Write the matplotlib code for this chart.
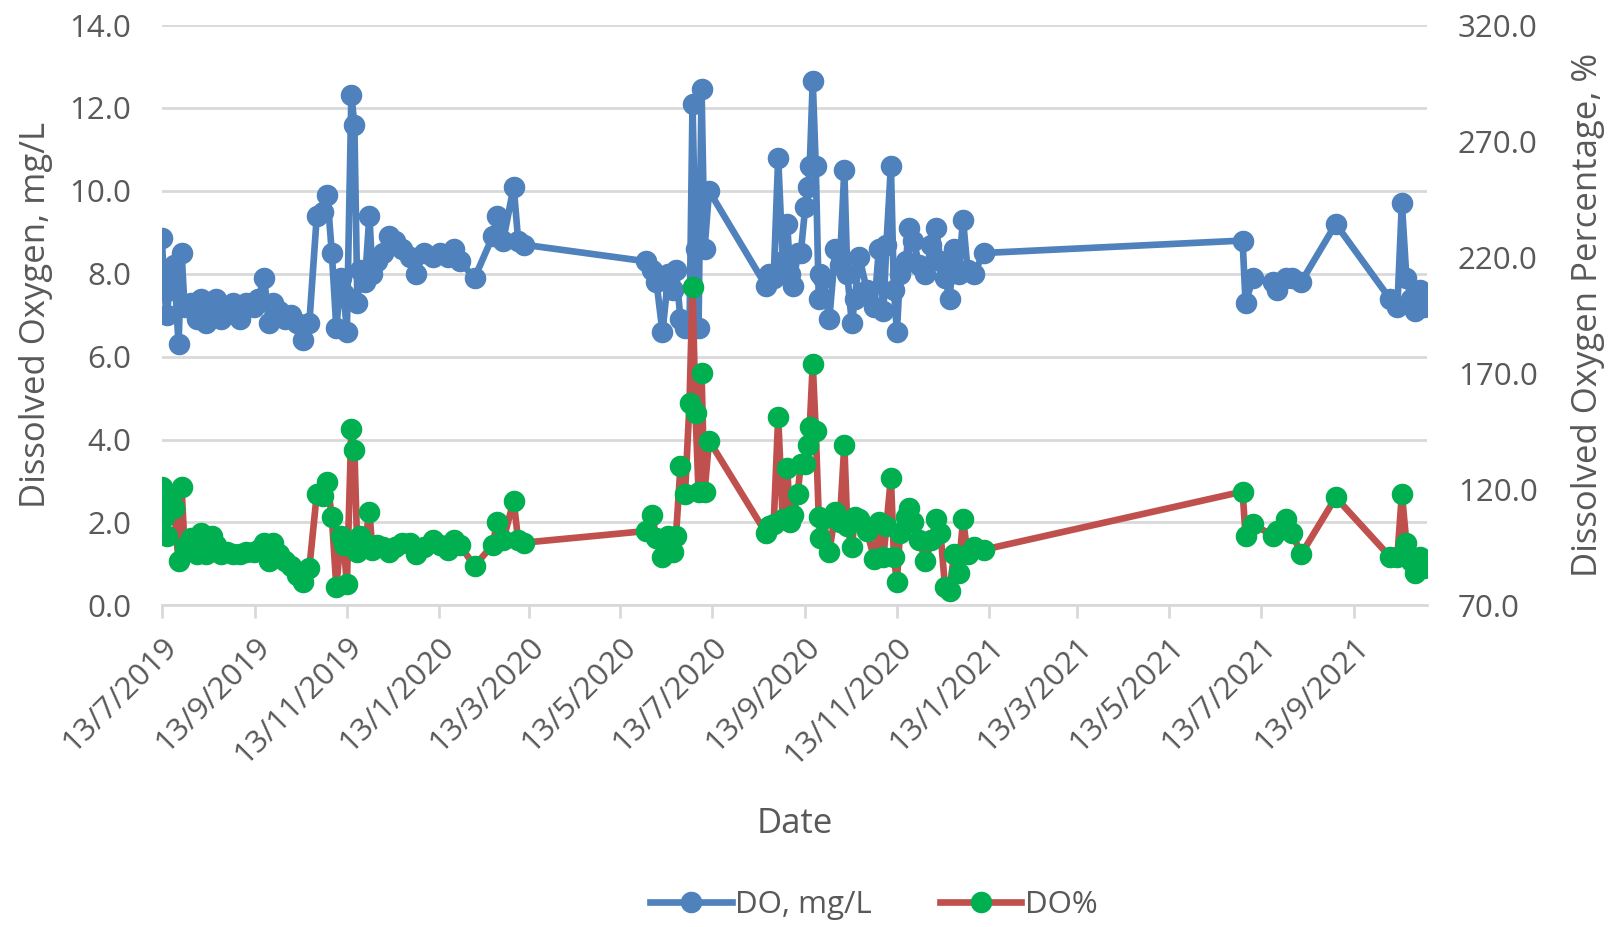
import numpy as np
import pandas as pd
import matplotlib
matplotlib.use("Agg")
import matplotlib.pyplot as plt
from matplotlib.ticker import FixedLocator, FormatStrFormatter
from matplotlib.lines import Line2D

plt.rcParams['font.family'] = ['Open Sans', 'DejaVu Sans']

# sampling day, counted from the first sample on 13/7/2019
start = pd.Timestamp("2019-07-13")
sample_day = [
    0, 1, 3, 5, 8, 11, 13, 15, 19, 23, 26, 29, 33, 36, 39, 43, 47, 52, 56, 61,
    64, 68, 71, 74, 78, 82, 86, 90, 94, 98, 103, 107, 110, 113, 116, 119, 121, 123, 126, 128,
    130, 132, 135, 138, 140, 143, 147, 151, 155, 160, 165, 169, 174, 180, 185, 190, 194, 198, 208, 220,
    223, 227, 234, 237, 241,
    322, 326, 329, 333, 337, 340, 342, 345, 348, 351, 353, 355, 357, 359, 361, 364,
    402, 404, 407, 410, 413, 416, 418, 420, 423, 425, 428, 430, 431, 433, 435, 437, 438, 440, 444,
    448, 451, 454, 456, 459, 461, 464, 469, 474, 477, 480, 482, 485, 487, 489, 491, 495, 497, 500, 504,
    508, 512, 515, 518, 521, 524, 527, 530, 533, 536, 540, 547,
    719, 721, 726, 739, 742, 748, 752, 758, 781, 817, 822, 825, 828, 831, 834, 837, 840,
]
do_mgl = [
    8.85, 7.9, 7.0, 7.6, 8.2, 6.3, 8.5, 7.2, 7.3, 6.9, 7.4, 6.8, 7.3, 7.4, 6.9, 7.2, 7.3, 6.9, 7.3, 7.2,
    7.4, 7.9, 6.8, 7.3, 7.1, 6.9, 7.0, 6.8, 6.4, 6.8, 9.4, 9.5, 9.9, 8.5, 6.7, 7.9, 7.5, 6.6, 12.3, 11.6,
    7.3, 8.1, 7.8, 9.4, 8.0, 8.3, 8.5, 8.9, 8.8, 8.6, 8.4, 8.0, 8.5, 8.4, 8.5, 8.4, 8.6, 8.3, 7.9, 8.9,
    9.4, 8.8, 10.1, 8.8, 8.7,
    8.3, 8.1, 7.8, 6.6, 8.0, 7.6, 8.1, 6.9, 6.7, 6.7, 12.1, 8.6, 6.7, 12.45, 8.6, 10.0,
    7.7, 8.0, 7.9, 10.8, 8.3, 9.2, 8.0, 7.7, 8.5, 8.5, 9.6, 10.1, 10.6, 12.65, 10.6, 7.4, 8.0, 7.9, 6.9,
    8.6, 8.2, 10.5, 8.0, 6.8, 7.4, 8.4, 7.6, 7.2, 8.6, 7.1, 8.7, 10.6, 7.6, 6.6, 8.0, 8.3, 9.1, 8.8, 8.2,
    8.0, 8.7, 9.1, 8.3, 7.9, 7.4, 8.6, 8.0, 9.3, 8.1, 8.0, 8.5,
    8.8, 7.3, 7.9, 7.8, 7.6, 7.9, 7.9, 7.8, 9.2, 7.4, 7.2, 9.7, 7.9, 7.4, 7.1, 7.6, 7.2,
]
do_pct = [
    121, 108, 100, 116, 112, 89, 121, 95, 99, 92, 101, 92, 100, 96, 92, 93, 92, 92, 93, 93,
    94, 97, 89, 97, 92, 89, 87, 83, 80, 86, 118, 117, 123, 108, 78, 100, 96, 79, 146, 137,
    93, 100, 97, 110, 94, 96, 95, 93, 95, 97, 97, 92, 95, 98, 96, 94, 98, 96, 87, 96,
    106, 98, 115, 98, 97,
    102, 109, 99, 91, 100, 93, 100, 130, 118, 157, 207, 153, 119, 170, 119, 141,
    101, 104, 105, 151, 107, 129, 106, 109, 118, 131, 131, 139, 147, 174, 145, 108, 99, 107, 93,
    110, 106, 139, 104, 95, 108, 107, 102, 90, 106, 91, 104, 125, 91, 80, 101, 108, 112, 106, 98,
    89, 98, 107, 101, 78, 76, 92, 84, 107, 92, 95, 94,
    119, 100, 105, 100, 102, 107, 101, 92, 116.5, 91, 91, 118, 97, 89, 84, 91, 86,
]

left_ticks = [0, 2, 4, 6, 8, 10, 12, 14]
right_ticks = [70, 120, 170, 220, 270, 320]

dates = start + pd.to_timedelta(sample_day, unit="D")
x_ticks = pd.date_range("2019-07-13", periods=14, freq=pd.DateOffset(months=2))

blue = "#4F81BD"
red = "#C0504D"
green = "#00B050"
grey_txt = "#595959"
grid_c = "#D9D9D9"

LW = 4.8
MS = 14.5

fig = plt.figure(figsize=(16.12, 9.27), dpi=100)
ax = fig.add_axes([0.1005, 0.347, 0.785, 0.626])
ax2 = ax.twinx()

ax.plot(dates, do_mgl, color=blue, lw=LW, marker="o", ms=MS,
        markerfacecolor=blue, markeredgecolor=blue, solid_joinstyle="round", zorder=3)
ax2.plot(dates, do_pct, color=red, lw=LW, marker="o", ms=MS,
         markerfacecolor=green, markeredgecolor=green, solid_joinstyle="round", zorder=3)

ax.set_ylim(0, 14)
ax2.set_ylim(70, 320)
ax.set_xlim(start, start + pd.Timedelta(days=842))

ax.yaxis.set_major_locator(FixedLocator(left_ticks))
ax.yaxis.set_major_formatter(FormatStrFormatter("%.1f"))
ax2.yaxis.set_major_locator(FixedLocator(right_ticks))
ax2.yaxis.set_major_formatter(FormatStrFormatter("%.1f"))

ax.set_xticks(x_ticks)
ax.set_xticklabels([f"{d.day}/{d.month}/{d.year}" for d in x_ticks],
                   rotation=45, ha="right", rotation_mode="anchor")

ax.grid(axis="y", color=grid_c, lw=2)
ax.set_axisbelow(True)
for a in (ax, ax2):
    for s in ("top", "left", "right"):
        a.spines[s].set_visible(False)
ax.spines["bottom"].set_color(grid_c)
ax.spines["bottom"].set_linewidth(2)
ax2.spines["bottom"].set_visible(False)

ax.tick_params(axis="x", colors=grid_c, length=9, width=2, labelcolor=grey_txt,
               labelsize=22.5, pad=10)
ax.tick_params(axis="y", length=0, labelcolor=grey_txt, labelsize=22.5, pad=22)
ax2.tick_params(axis="y", length=0, labelcolor=grey_txt, labelsize=22.5, pad=22)

ax.set_ylabel("Dissolved Oxygen, mg/L", color=grey_txt, fontsize=25, labelpad=12)
ax2.set_ylabel("Dissolved Oxygen Percentage, %", color=grey_txt, fontsize=25, labelpad=24)
ax.set_xlabel("Date", color=grey_txt, fontsize=25, labelpad=26)

handles = [
    Line2D([], [], color=blue, lw=LW, marker="o", ms=MS, markerfacecolor=blue, markeredgecolor=blue),
    Line2D([], [], color=red, lw=LW, marker="o", ms=MS, markerfacecolor=green, markeredgecolor=green),
]
fig.legend(handles, ["DO, mg/L", "DO%"], loc="center", bbox_to_anchor=(0.542, 0.024),
           ncol=2, frameon=False, fontsize=22.5, labelcolor=grey_txt,
           handlelength=2.6, handletextpad=0.1, columnspacing=2.2)

fig.savefig("out.png", dpi=100)
